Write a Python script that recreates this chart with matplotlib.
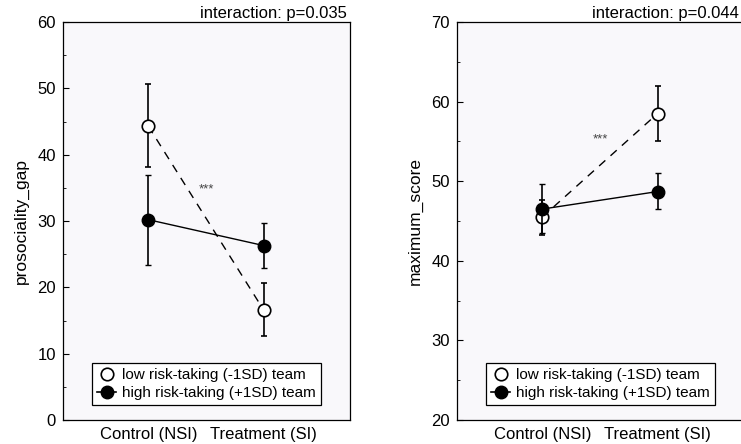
import matplotlib
matplotlib.use("Agg")
import matplotlib.pyplot as plt
from matplotlib.lines import Line2D
import numpy as np

plt.rcParams['font.family'] = ['Liberation Sans', 'DejaVu Sans']

conditions = ["Control (NSI)", "Treatment (SI)"]
labels = ["low risk-taking (-1SD) team", "high risk-taking (+1SD) team"]

# left panel: prosociality_gap
gap_low = [44.3, 16.6]
gap_low_err = [[6.2, 4.0], [6.4, 4.0]]   # lower, upper
gap_high = [30.2, 26.3]
gap_high_err = [[6.8, 3.4], [6.8, 3.4]]

# right panel: maximum_score
score_low = [45.5, 58.5]
score_low_err = [[2.2, 3.5], [2.2, 3.5]]
score_high = [46.5, 48.7]
score_high_err = [[3.0, 2.2], [3.2, 2.3]]

panels = [
    dict(ylabel="prosociality_gap", ylim=(0, 60), p="interaction: p=0.035",
         low=gap_low, low_err=gap_low_err, high=gap_high, high_err=gap_high_err, star_y=34.7),
    dict(ylabel="maximum_score", ylim=(20, 70), p="interaction: p=0.044",
         low=score_low, low_err=score_low_err, high=score_high, high_err=score_high_err, star_y=55.2),
]

W, H = 741, 444
fig = plt.figure(figsize=(W / 100, H / 100), dpi=100)
axes_px = [(63, 22, 287, 398), (457, 22, 287, 398)]

handles = [
    Line2D([], [], ls="none", marker="o", ms=9, mfc="white", mec="black", mew=1.2),
    Line2D([], [], ls="-", lw=1.2, color="black", marker="o", ms=9, mfc="black"),
]

x = np.array([1.0, 2.0])
for (l, t, w, h), p in zip(axes_px, panels):
    ax = fig.add_axes([l / W, (H - t - h) / H, w / W, h / H])
    ax.set_facecolor("#f9f8fb")
    ax.errorbar(x, p["low"], yerr=p["low_err"], fmt="o--", color="black", lw=1,
                elinewidth=1.2, capsize=2.5, capthick=1, ms=9, mfc="white", mec="black",
                mew=1.2, dashes=(6, 5), zorder=2)
    ax.errorbar(x, p["high"], yerr=p["high_err"], fmt="o-", color="black", lw=1,
                elinewidth=1.2, capsize=2.5, capthick=1, ms=9, mfc="black", mec="black",
                zorder=3)
    ax.text(1.5, p["star_y"], "***", ha="center", va="center", fontsize=9.5, color="#444444")
    ax.set_xlim(0.26, 2.75)
    ax.set_ylim(*p["ylim"])
    ax.set_xticks(x)
    ax.set_xticklabels(conditions, fontsize=12)
    ax.tick_params(axis="x", length=0, pad=5)
    lo, hi = p["ylim"]
    ax.set_yticks(np.arange(lo, hi + 1, 10))
    ax.set_yticks(np.arange(lo + 5, hi, 10), minor=True)
    ax.tick_params(axis="y", which="major", direction="in", length=4, labelsize=12, pad=5)
    ax.tick_params(axis="y", which="minor", direction="in", length=2)
    ax.set_ylabel(p["ylabel"], fontsize=12.5, labelpad=6)
    for s in ax.spines.values():
        s.set_linewidth(0.9)
    # right-aligned a few pixels left of the axes edge, kept inside the figure
    xr = min(l + w - 3, W - 2) / W
    fig.text(xr, (H - t + 1) / H, p["p"], ha="right", va="bottom", fontsize=12)
    leg = ax.legend(handles, labels, loc="lower center", fontsize=11, frameon=True,
                    fancybox=False, edgecolor="black", framealpha=1, handlelength=1.2,
                    handletextpad=0.4, borderpad=0.35, labelspacing=0.25, borderaxespad=0.95)
    leg.get_frame().set_linewidth(0.9)

fig.savefig("out.png", dpi=100)
